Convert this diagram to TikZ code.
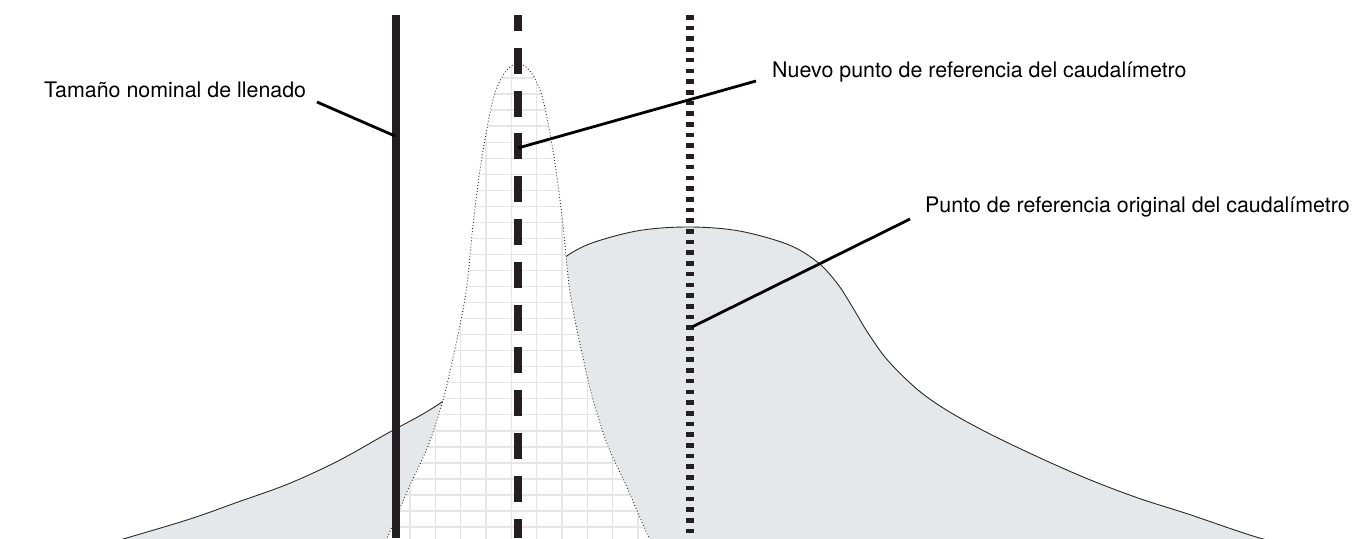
\documentclass[tikz,border=0pt]{standalone}
\usepackage{fontspec}
\setmainfont{TeX Gyre Heros}
\definecolor{inkc}{HTML}{231F20}
\definecolor{grayfill}{HTML}{E6E7E8}
\definecolor{gridc}{HTML}{E6E6E6}
\definecolor{curvec}{HTML}{2A2A2A}
\begin{document}
\begin{tikzpicture}[x=1pt,y=-1pt,
  refline/.style={draw=inkc, line width=8pt, line cap=butt},
  leader/.style={draw=black, line width=2.8pt},
  lbl/.style={font=\fontsize{21.4}{25}\selectfont, anchor=base west, inner sep=0pt, text=black},
  gridline/.style={draw=gridc, line width=1.3pt},
]
\useasboundingbox (0,0) rectangle (1372,538);
\def\broad{(78,552) (130,537) (190,519) (238,502) (288,484) (338,461) (388,433) (428,411) (458,390) (488,360.7) (508,333) (523,308) (538,284.5) (558,262.5) (588,244.5) (638,230.75) (688,227) (738,230.75) (788,244.5) (818,262.5) (838,284.5) (853,308) (868,333) (888,360.7) (918,390) (948,411) (988,433) (1038,457) (1088,479) (1138,498) (1188,514) (1253,536) (1308,551)}
\def\narrow{(373,565) (386,540) (398,513) (410,485) (428,446) (443,400) (452,362) (460,325) (467,285) (473,225) (480,170) (487,128) (494,96) (502,77) (510,67) (518,63) (526,67) (534,77) (542,96) (549,128) (556,170) (563,225) (569,285) (576,325) (584,362) (593,400) (608,446) (626,485) (638,513) (650,540) (663,565)}
\begin{scope}
\clip (0,0) rectangle (1372,538);
% broad distribution
\path[fill=grayfill, draw=curvec, line width=0.9pt] plot[smooth, tension=0.55] coordinates {\broad};
% narrow distribution
\fill[white] plot[smooth, tension=0.55] coordinates {\narrow};
\begin{scope}
\clip plot[smooth, tension=0.55] coordinates {\narrow};
\foreach \i in {-2,...,11} \draw[gridline] (410+25.33*\i,40) -- (410+25.33*\i,560);
\foreach \j in {-2,...,30} \draw[gridline] (350,78+16.04*\j) -- (690,78+16.04*\j);
\end{scope}
\draw[curvec, line width=0.9pt, dash pattern=on 0.9pt off 2.2pt] plot[smooth, tension=0.55] coordinates {\narrow};
\end{scope}
% reference lines
\coordinate (s1) at (396,15); \coordinate (s2) at (396,538);
\coordinate (d1) at (518,15); \coordinate (d2) at (518,538);
\coordinate (p1) at (690,15); \coordinate (p2) at (690,538);
\draw[refline] (s1) -- (s2);
\draw[refline, dash pattern=on 26pt off 16.8pt, dash phase=10pt] (d1) -- (d2);
\draw[refline, dash pattern=on 4.6pt off 6.1pt] (p1) -- (p2);
% labels
\node[lbl] (tam) at (44,97) {Tamaño nominal de llenado};
\node[lbl] (nue) at (772,77) {Nuevo punto de referencia del caudalímetro};
\node[lbl] (ori) at (925,212) {Punto de referencia original del caudalímetro};
% leaders
\coordinate (tamA) at (317,102); \coordinate (tamB) at (395,136);
\coordinate (nueA) at (756,81); \coordinate (nueB) at (518,148);
\coordinate (oriA) at (910,219); \coordinate (oriB) at (692,327);
\draw[leader] (tamA) -- (tamB);
\draw[leader] (nueA) -- (nueB);
\draw[leader] (oriA) -- (oriB);
\end{tikzpicture}
\end{document}
